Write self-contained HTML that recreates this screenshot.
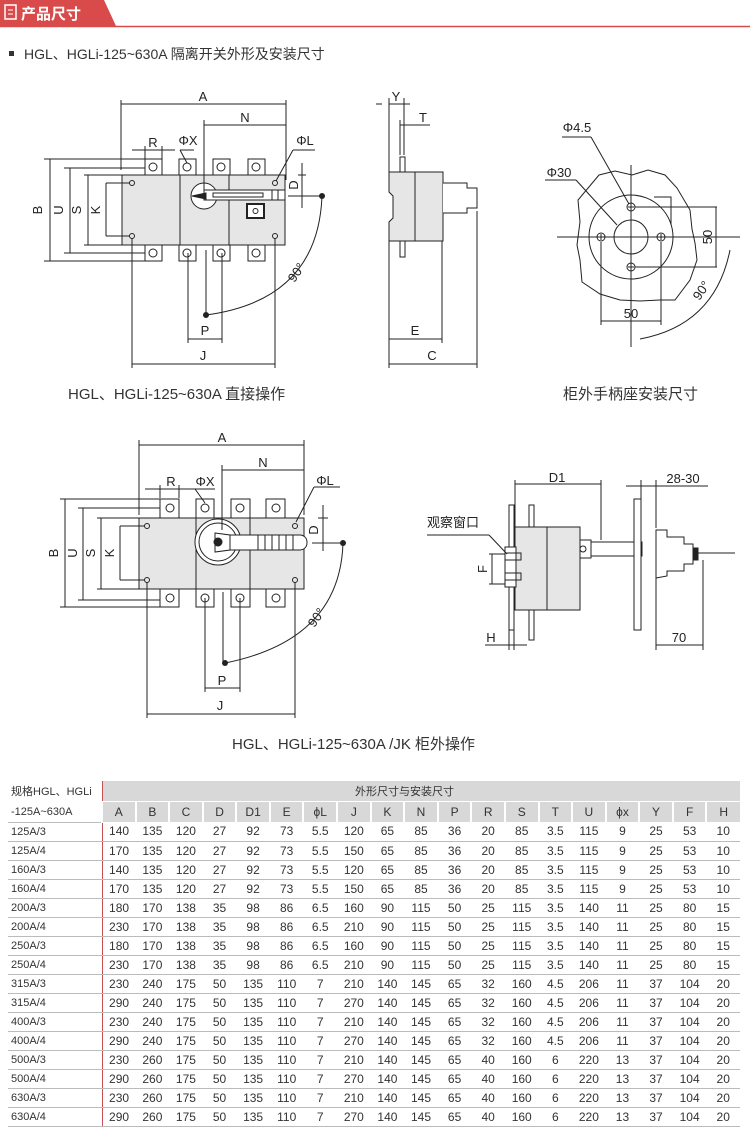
<!DOCTYPE html>
<html><head><meta charset="utf-8"><style>
body{margin:0;width:750px;height:1142px;background:#fff;position:relative;overflow:hidden;font-family:"Liberation Sans","Noto Sans CJK SC",sans-serif;}
svg{position:absolute;left:0;top:0}
#hbg{position:absolute;left:103px;top:781px;width:637px;height:20px;background:#d8d8d8}
table{position:absolute;left:8px;top:781px;width:732px;border-collapse:collapse;table-layout:fixed;font-size:12px;color:#333}
td{height:18px;padding:0;text-align:center;border-bottom:1px solid #bbb;white-space:nowrap}
td.s{text-align:left;padding-left:3px;border-right:1.5px solid #c85050;font-size:11px}
tr.h1 td{height:20px;border-bottom:1px solid #fff;font-size:11px}
tr.h2 td{height:20px;background:#d8d8d8;border-left:2px solid #fff;border-bottom:none}
tr.h2 td.s,tr.h1 td.s{background:#fff;border-left:none}
</style></head><body>
<div id="hbg"></div>
<svg width="750" height="780" viewBox="0 0 750 780" font-family="Liberation Sans, Noto Sans CJK SC, sans-serif">
<path d="M0,0 H104 L116,26 H0 Z" fill="#d94a4a"/>
<line x1="0" y1="26.5" x2="750" y2="26.5" stroke="#d94a4a" stroke-width="1.5"/>
<rect x="5" y="5" width="11" height="14" fill="none" stroke="#fff" stroke-width="1.5"/>
<line x1="8" y1="10" x2="13" y2="10" stroke="#fff"/><line x1="8" y1="14" x2="13" y2="14" stroke="#fff"/>
<text x="21" y="19" font-size="15" font-weight="bold" fill="#fff">产品尺寸</text>
<rect x="9" y="51" width="5" height="5" fill="#333"/>
<text x="24" y="59" font-size="14" fill="#333">HGL、HGLi-125~630A 隔离开关外形及安装尺寸</text>

<g stroke="#222" fill="none" stroke-width="1">
<rect x="122" y="175" width="163" height="70" fill="#e6e6e6"/>
<line x1="180" y1="175" x2="180" y2="245"/><line x1="229" y1="175" x2="229" y2="245"/>
<g fill="#fff">
<rect x="145" y="159" width="17" height="16"/><rect x="179" y="159" width="17" height="16"/><rect x="213" y="159" width="17" height="16"/><rect x="248" y="159" width="17" height="16"/>
<rect x="145" y="245" width="17" height="16"/><rect x="179" y="245" width="17" height="16"/><rect x="213" y="245" width="17" height="16"/><rect x="248" y="245" width="17" height="16"/>
</g>
<circle cx="153" cy="167" r="4"/><circle cx="187" cy="167" r="4"/><circle cx="221" cy="167" r="4"/><circle cx="256" cy="167" r="4"/>
<circle cx="153" cy="253" r="4"/><circle cx="187" cy="253" r="4"/><circle cx="221" cy="253" r="4"/><circle cx="256" cy="253" r="4"/>
<circle cx="132" cy="183" r="2.5"/><circle cx="132" cy="236" r="2.5"/><circle cx="275" cy="183" r="2.5"/><circle cx="275" cy="236" r="2.5"/>
<circle cx="204" cy="196" r="13" fill="#fff"/>
<rect x="204" y="190" width="81" height="10" fill="#fff"/>
<rect x="213" y="193" width="50" height="4"/>
<line x1="272" y1="190" x2="272" y2="200"/><line x1="278" y1="190" x2="278" y2="200"/>
<path d="M192,196 L206,193 L206,199 Z" fill="#222"/>
<rect x="247" y="204" width="17" height="14" fill="#fff" stroke-width="2"/><circle cx="255.5" cy="211" r="2.5"/>
<line x1="121" y1="104" x2="286" y2="104"/><line x1="121" y1="100" x2="121" y2="170"/><line x1="286" y1="100" x2="286" y2="180"/>
<line x1="204" y1="125" x2="286" y2="125"/><line x1="204" y1="120" x2="204" y2="196"/>
<line x1="132" y1="150" x2="175" y2="150"/><line x1="145" y1="146" x2="145" y2="160"/><line x1="162" y1="146" x2="162" y2="160"/>
<line x1="180" y1="150" x2="194" y2="150"/><line x1="180" y1="150" x2="187" y2="163"/>
<line x1="293" y1="150" x2="315" y2="150"/><line x1="293" y1="150" x2="276" y2="181"/>
<line x1="302" y1="163" x2="302" y2="208"/><line x1="298" y1="175" x2="306" y2="175"/><line x1="288" y1="196" x2="322" y2="196"/>
<path d="M322,196 Q318,300 206,315"/>
<line x1="206" y1="250" x2="206" y2="315"/>
<line x1="50" y1="159" x2="50" y2="261"/><line x1="44" y1="159" x2="145" y2="159"/><line x1="44" y1="261" x2="145" y2="261"/>
<line x1="70" y1="168" x2="70" y2="253"/><line x1="64" y1="168" x2="145" y2="168"/><line x1="64" y1="253" x2="145" y2="253"/>
<line x1="88" y1="175" x2="88" y2="245"/><line x1="84" y1="175" x2="122" y2="175"/><line x1="84" y1="245" x2="122" y2="245"/>
<line x1="106" y1="183" x2="106" y2="236"/><line x1="106" y1="183" x2="130" y2="183"/><line x1="106" y1="236" x2="130" y2="236"/>
<line x1="188" y1="339" x2="222" y2="339"/><line x1="188" y1="253" x2="188" y2="343"/><line x1="222" y1="253" x2="222" y2="343"/>
<line x1="132" y1="364" x2="275" y2="364"/><line x1="132" y1="238" x2="132" y2="368"/><line x1="275" y1="238" x2="275" y2="368"/>
<rect x="400" y="157" width="5" height="100" fill="#fff"/>
<path d="M389,172 H443 V241 H389 V222 L393,218 V196 L389,192 Z" fill="#e6e6e6"/>
<line x1="415" y1="172" x2="415" y2="241"/>
<path d="M443,183 H467 V188 H477 V208 H467 V213 H443" fill="#fff"/>
<line x1="389" y1="104" x2="404" y2="104"/><line x1="376" y1="104" x2="418" y2="104" stroke-dasharray="6,8"/>
<line x1="389" y1="98" x2="389" y2="172"/><line x1="404" y1="98" x2="404" y2="155"/>
<line x1="400" y1="125" x2="430" y2="125"/><line x1="400" y1="120" x2="400" y2="155"/>
<line x1="389" y1="241" x2="389" y2="368"/><line x1="442" y1="241" x2="442" y2="343"/><line x1="477" y1="211" x2="477" y2="368"/>
<line x1="389" y1="339" x2="442" y2="339"/><line x1="389" y1="364" x2="477" y2="364"/>
<path d="M599,175 L615,171 L632,175 L648,170 L665,175 L677,188 L690,210 L692,229 L695,243 L697,260 L690,280 L675,300 L660,300 L640,301 L620,300 L600,294 L582,282 L580,260 L577,245 L580,222 L578,200 Z"/>
<circle cx="631" cy="237" r="42"/>
<circle cx="631" cy="237" r="17"/>
<line x1="631" y1="165" x2="631" y2="347"/><line x1="557" y1="237" x2="740" y2="237"/>
<g><circle cx="601" cy="237" r="4"/><circle cx="661" cy="237" r="4"/><circle cx="631" cy="207" r="4"/><circle cx="631" cy="267" r="4"/>
<path d="M598,237h6M601,234v6M658,237h6M661,234v6M628,207h6M631,204v6M628,267h6M631,264v6"/></g>
<line x1="562" y1="137" x2="591" y2="137"/><line x1="591" y1="137" x2="629" y2="204"/>
<line x1="545" y1="180" x2="576" y2="180"/><line x1="576" y1="180" x2="617" y2="225"/>
<line x1="635" y1="207" x2="717" y2="207"/><line x1="635" y1="267" x2="717" y2="267"/><line x1="716" y1="207" x2="716" y2="267"/>
<line x1="601" y1="242" x2="601" y2="325"/><line x1="661" y1="242" x2="661" y2="325"/><line x1="601" y1="321" x2="661" y2="321"/>
<path d="M654,197 H671 V225"/>
<path d="M730,250 Q715,325 640,339"/>
<rect x="139" y="518" width="165" height="71" fill="#e6e6e6"/>
<line x1="196" y1="518" x2="196" y2="589"/><line x1="250" y1="518" x2="250" y2="589"/>
<g fill="#fff">
<rect x="160" y="499" width="19" height="19"/><rect x="196" y="499" width="18" height="19"/><rect x="231" y="499" width="19" height="19"/><rect x="266" y="499" width="19" height="19"/>
<rect x="160" y="589" width="19" height="18"/><rect x="196" y="589" width="18" height="18"/><rect x="231" y="589" width="19" height="18"/><rect x="266" y="589" width="19" height="18"/>
</g>
<circle cx="170" cy="508" r="4"/><circle cx="205" cy="508" r="4"/><circle cx="240" cy="508" r="4"/><circle cx="276" cy="508" r="4"/>
<circle cx="170" cy="598" r="4"/><circle cx="205" cy="598" r="4"/><circle cx="240" cy="598" r="4"/><circle cx="276" cy="598" r="4"/>
<circle cx="147" cy="526" r="2.5"/><circle cx="147" cy="580" r="2.5"/><circle cx="295" cy="526" r="2.5"/><circle cx="295" cy="580" r="2.5"/>
<circle cx="218" cy="542" r="23" fill="#fff"/><circle cx="218" cy="542" r="19"/>
<rect x="222" y="535" width="85" height="15" rx="7" fill="#fff"/>
<path d="M258,535v15M265,535v15M272,535v15M279,535v15M286,535v15M293,535v15"/>
<path d="M215,533 L230,535 L230,550 L215,552 Z" fill="#fff"/>
<circle cx="218" cy="542" r="4" fill="#222"/>
<line x1="139" y1="445" x2="304" y2="445"/><line x1="139" y1="440" x2="139" y2="515"/><line x1="304" y1="440" x2="304" y2="515"/>
<line x1="222" y1="470" x2="304" y2="470"/><line x1="222" y1="465" x2="222" y2="530"/>
<line x1="145" y1="489" x2="215" y2="489"/><line x1="160" y1="485" x2="160" y2="498"/><line x1="179" y1="485" x2="179" y2="498"/>
<line x1="195" y1="489" x2="215" y2="489"/><line x1="195" y1="489" x2="205" y2="503"/>
<line x1="314" y1="487" x2="340" y2="487"/><line x1="314" y1="487" x2="296" y2="522"/>
<line x1="323" y1="505" x2="323" y2="551"/><line x1="318" y1="518" x2="328" y2="518"/><line x1="312" y1="543" x2="343" y2="543"/>
<path d="M343,543 Q340,640 225,663"/>
<line x1="223" y1="592" x2="223" y2="663"/>
<line x1="65" y1="499" x2="65" y2="607"/><line x1="60" y1="499" x2="160" y2="499"/><line x1="60" y1="607" x2="160" y2="607"/>
<line x1="83" y1="508" x2="83" y2="600"/><line x1="78" y1="508" x2="160" y2="508"/><line x1="78" y1="600" x2="160" y2="600"/>
<line x1="101" y1="518" x2="101" y2="589"/><line x1="97" y1="518" x2="139" y2="518"/><line x1="97" y1="589" x2="139" y2="589"/>
<line x1="120" y1="526" x2="120" y2="580"/><line x1="120" y1="526" x2="145" y2="526"/><line x1="120" y1="580" x2="145" y2="580"/>
<line x1="205" y1="688" x2="240" y2="688"/><line x1="205" y1="598" x2="205" y2="692"/><line x1="240" y1="598" x2="240" y2="692"/>
<line x1="147" y1="714" x2="295" y2="714"/><line x1="147" y1="582" x2="147" y2="718"/><line x1="295" y1="582" x2="295" y2="718"/>
<rect x="509" y="505" width="5" height="125" fill="#fff"/>
<rect x="529" y="505" width="5" height="135" fill="#fff"/>
<rect x="515" y="527" width="65" height="83" fill="#e6e6e6"/><line x1="547" y1="527" x2="547" y2="610"/>
<rect x="505" y="547" width="11" height="40" fill="#fff"/>
<path d="M505,553 H521 V560 H505 M505,573 H521 V580 H505"/>
<rect x="580" y="542" width="62" height="14" fill="#fff"/>
<rect x="580" y="540" width="11" height="18" fill="#fff"/>
<circle cx="583" cy="549" r="3"/>
<rect x="634" y="499" width="7" height="131" fill="#fff"/>
<path d="M656,530 H667 V537 H684 V544 H693 V564 H684 V571 H667 V576 L656,578 Z" fill="#fff"/>
<rect x="693" y="548" width="5" height="12" fill="#222"/>
<line x1="698" y1="553" x2="735" y2="553"/>
<line x1="515" y1="484" x2="601" y2="484"/><line x1="515" y1="480" x2="515" y2="527"/><line x1="601" y1="480" x2="601" y2="540"/>
<line x1="626" y1="486" x2="708" y2="486"/><line x1="641" y1="480" x2="641" y2="500"/><line x1="656" y1="480" x2="656" y2="528"/>
<line x1="656" y1="645" x2="703" y2="645"/><line x1="656" y1="578" x2="656" y2="650"/><line x1="703" y1="560" x2="703" y2="650"/>
<line x1="485" y1="645" x2="527" y2="645"/><line x1="509" y1="630" x2="509" y2="650"/><line x1="514" y1="630" x2="514" y2="650"/>
<line x1="489" y1="554" x2="505" y2="554"/><line x1="489" y1="584" x2="505" y2="584"/><line x1="492" y1="554" x2="492" y2="584"/>
<line x1="427" y1="535" x2="489" y2="535"/><line x1="489" y1="535" x2="507" y2="554"/>
</g>
<g fill="#222"><circle cx="322" cy="196" r="3"/><circle cx="206" cy="315" r="3"/><circle cx="343" cy="543" r="3"/><circle cx="225" cy="663" r="3"/></g>
<g font-size="13" fill="#222" text-anchor="middle">
<text x="203" y="101">A</text><text x="245" y="122">N</text><text x="153" y="147">R</text><text x="188" y="145">ΦX</text><text x="305" y="145">ΦL</text>
<text x="205" y="335">P</text><text x="203" y="360">J</text>
<text x="415" y="335">E</text><text x="432" y="360">C</text><text x="396" y="101">Y</text><text x="423" y="122">T</text>
<text x="577" y="132">Φ4.5</text><text x="559" y="177">Φ30</text><text x="631" y="318">50</text>
<text x="222" y="442">A</text><text x="263" y="467">N</text><text x="171" y="486">R</text><text x="205" y="486">ΦX</text><text x="325" y="485">ΦL</text>
<text x="222" y="685">P</text><text x="220" y="710">J</text>
<text x="557" y="482">D1</text><text x="683" y="483">28-30</text><text x="679" y="642">70</text><text x="491" y="642">H</text>
<text x="300" y="275" transform="rotate(-55 300 275)">90°</text>
<text x="320" y="620" transform="rotate(-55 320 620)">90°</text>
<text x="705" y="293" transform="rotate(-55 705 293)">90°</text>
<text x="42" y="210" transform="rotate(-90 42 210)">B</text><text x="63" y="210" transform="rotate(-90 63 210)">U</text>
<text x="81" y="210" transform="rotate(-90 81 210)">S</text><text x="100" y="210" transform="rotate(-90 100 210)">K</text>
<text x="298" y="185" transform="rotate(-90 298 185)">D</text><text x="712" y="237" transform="rotate(-90 712 237)">50</text>
<text x="58" y="553" transform="rotate(-90 58 553)">B</text><text x="77" y="553" transform="rotate(-90 77 553)">U</text>
<text x="95" y="553" transform="rotate(-90 95 553)">S</text><text x="114" y="553" transform="rotate(-90 114 553)">K</text>
<text x="318" y="530" transform="rotate(-90 318 530)">D</text><text x="487" y="569" transform="rotate(-90 487 569)">F</text>
</g>
<text x="427" y="527" font-size="13" fill="#222">观察窗口</text>
<text x="68" y="399" font-size="15" fill="#333">HGL、HGLi-125~630A 直接操作</text>
<text x="563" y="399" font-size="15" fill="#333">柜外手柄座安装尺寸</text>
<text x="232" y="749" font-size="15" fill="#333">HGL、HGLi-125~630A /JK 柜外操作</text>
</svg>
<table>
<colgroup><col style="width:94px"><col span="18"></colgroup>
<tr class="h1"><td class="s" style="border-bottom:none">规格HGL、HGLi</td><td colspan="18">外形尺寸与安装尺寸</td></tr>
<tr class="h2"><td class="s" style="border-bottom:1px solid #bbb">-125A~630A</td><td>A</td><td>B</td><td>C</td><td>D</td><td>D1</td><td>E</td><td>ϕL</td><td>J</td><td>K</td><td>N</td><td>P</td><td>R</td><td>S</td><td>T</td><td>U</td><td>ϕx</td><td>Y</td><td>F</td><td>H</td></tr>
<tr><td class="s">125A/3</td><td>140</td><td>135</td><td>120</td><td>27</td><td>92</td><td>73</td><td>5.5</td><td>120</td><td>65</td><td>85</td><td>36</td><td>20</td><td>85</td><td>3.5</td><td>115</td><td>9</td><td>25</td><td>53</td><td>10</td></tr>
<tr><td class="s">125A/4</td><td>170</td><td>135</td><td>120</td><td>27</td><td>92</td><td>73</td><td>5.5</td><td>150</td><td>65</td><td>85</td><td>36</td><td>20</td><td>85</td><td>3.5</td><td>115</td><td>9</td><td>25</td><td>53</td><td>10</td></tr>
<tr><td class="s">160A/3</td><td>140</td><td>135</td><td>120</td><td>27</td><td>92</td><td>73</td><td>5.5</td><td>120</td><td>65</td><td>85</td><td>36</td><td>20</td><td>85</td><td>3.5</td><td>115</td><td>9</td><td>25</td><td>53</td><td>10</td></tr>
<tr><td class="s">160A/4</td><td>170</td><td>135</td><td>120</td><td>27</td><td>92</td><td>73</td><td>5.5</td><td>150</td><td>65</td><td>85</td><td>36</td><td>20</td><td>85</td><td>3.5</td><td>115</td><td>9</td><td>25</td><td>53</td><td>10</td></tr>
<tr><td class="s">200A/3</td><td>180</td><td>170</td><td>138</td><td>35</td><td>98</td><td>86</td><td>6.5</td><td>160</td><td>90</td><td>115</td><td>50</td><td>25</td><td>115</td><td>3.5</td><td>140</td><td>11</td><td>25</td><td>80</td><td>15</td></tr>
<tr><td class="s">200A/4</td><td>230</td><td>170</td><td>138</td><td>35</td><td>98</td><td>86</td><td>6.5</td><td>210</td><td>90</td><td>115</td><td>50</td><td>25</td><td>115</td><td>3.5</td><td>140</td><td>11</td><td>25</td><td>80</td><td>15</td></tr>
<tr><td class="s">250A/3</td><td>180</td><td>170</td><td>138</td><td>35</td><td>98</td><td>86</td><td>6.5</td><td>160</td><td>90</td><td>115</td><td>50</td><td>25</td><td>115</td><td>3.5</td><td>140</td><td>11</td><td>25</td><td>80</td><td>15</td></tr>
<tr><td class="s">250A/4</td><td>230</td><td>170</td><td>138</td><td>35</td><td>98</td><td>86</td><td>6.5</td><td>210</td><td>90</td><td>115</td><td>50</td><td>25</td><td>115</td><td>3.5</td><td>140</td><td>11</td><td>25</td><td>80</td><td>15</td></tr>
<tr><td class="s">315A/3</td><td>230</td><td>240</td><td>175</td><td>50</td><td>135</td><td>110</td><td>7</td><td>210</td><td>140</td><td>145</td><td>65</td><td>32</td><td>160</td><td>4.5</td><td>206</td><td>11</td><td>37</td><td>104</td><td>20</td></tr>
<tr><td class="s">315A/4</td><td>290</td><td>240</td><td>175</td><td>50</td><td>135</td><td>110</td><td>7</td><td>270</td><td>140</td><td>145</td><td>65</td><td>32</td><td>160</td><td>4.5</td><td>206</td><td>11</td><td>37</td><td>104</td><td>20</td></tr>
<tr><td class="s">400A/3</td><td>230</td><td>240</td><td>175</td><td>50</td><td>135</td><td>110</td><td>7</td><td>210</td><td>140</td><td>145</td><td>65</td><td>32</td><td>160</td><td>4.5</td><td>206</td><td>11</td><td>37</td><td>104</td><td>20</td></tr>
<tr><td class="s">400A/4</td><td>290</td><td>240</td><td>175</td><td>50</td><td>135</td><td>110</td><td>7</td><td>270</td><td>140</td><td>145</td><td>65</td><td>32</td><td>160</td><td>4.5</td><td>206</td><td>11</td><td>37</td><td>104</td><td>20</td></tr>
<tr><td class="s">500A/3</td><td>230</td><td>260</td><td>175</td><td>50</td><td>135</td><td>110</td><td>7</td><td>210</td><td>140</td><td>145</td><td>65</td><td>40</td><td>160</td><td>6</td><td>220</td><td>13</td><td>37</td><td>104</td><td>20</td></tr>
<tr><td class="s">500A/4</td><td>290</td><td>260</td><td>175</td><td>50</td><td>135</td><td>110</td><td>7</td><td>270</td><td>140</td><td>145</td><td>65</td><td>40</td><td>160</td><td>6</td><td>220</td><td>13</td><td>37</td><td>104</td><td>20</td></tr>
<tr><td class="s">630A/3</td><td>230</td><td>260</td><td>175</td><td>50</td><td>135</td><td>110</td><td>7</td><td>210</td><td>140</td><td>145</td><td>65</td><td>40</td><td>160</td><td>6</td><td>220</td><td>13</td><td>37</td><td>104</td><td>20</td></tr>
<tr><td class="s">630A/4</td><td>290</td><td>260</td><td>175</td><td>50</td><td>135</td><td>110</td><td>7</td><td>270</td><td>140</td><td>145</td><td>65</td><td>40</td><td>160</td><td>6</td><td>220</td><td>13</td><td>37</td><td>104</td><td>20</td></tr>
</table>
</body></html>
